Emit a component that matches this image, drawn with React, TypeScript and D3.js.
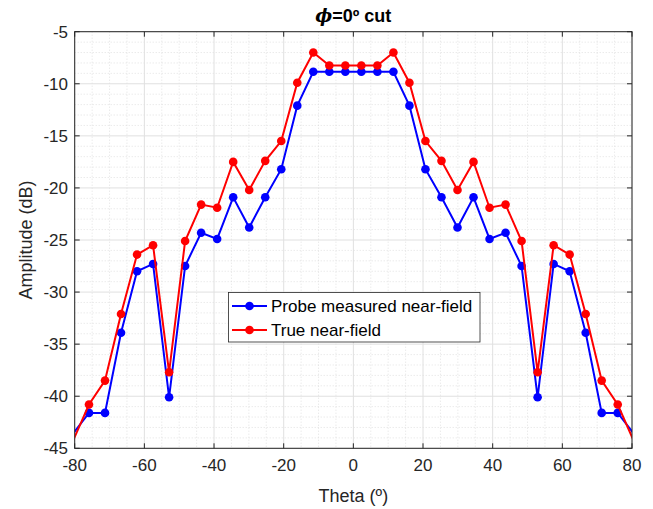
import React from "react";
import * as d3 from "d3";

const theta = [
  -80.5, -75.9, -71.3, -66.7, -62.1, -57.5, -52.9, -48.3, -43.7, -39.1, -34.5, -29.9,
  -25.3, -20.7, -16.1, -11.5, -6.9, -2.3, 2.3, 6.9, 11.5, 16.1, 20.7, 25.3,
  29.9, 34.5, 39.1, 43.7, 48.3, 52.9, 57.5, 62.1, 66.7, 71.3, 75.9, 80.5,
];
const probeMeasured = [
  -43.6, -41.6, -41.6, -33.9, -28.0, -27.3, -40.1, -27.5, -24.3, -24.9, -20.9, -23.8,
  -20.9, -18.2, -12.1, -8.85, -8.85, -8.85, -8.85, -8.85, -8.85, -12.1, -18.2, -20.9,
  -23.8, -20.9, -24.9, -24.3, -27.5, -40.1, -27.3, -28.0, -33.9, -41.6, -41.6, -43.6,
];
const trueField = [
  -44.3, -40.8, -38.5, -32.1, -26.4, -25.5, -37.7, -25.1, -21.6, -21.9, -17.5, -20.2,
  -17.4, -15.5, -9.9, -7.0, -8.25, -8.25, -8.25, -8.25, -7.0, -9.9, -15.5, -17.4,
  -20.2, -17.5, -21.9, -21.6, -25.1, -37.7, -25.5, -26.4, -32.1, -38.5, -40.8, -44.3,
];
const xTicks = [-80, -60, -40, -20, 0, 20, 40, 60, 80];
const yTicks = [-45, -40, -35, -30, -25, -20, -15, -10, -5];
const seriesNames = ["Probe measured near-field", "True near-field"];
const seriesColors = ["#0000ff", "#ff0000"];

const W = 653;
const H = 509;
const left = 74.7;
const right = 632;
const top = 31.7;
const bottom = 448.3;
const axisColor = "#262626";
const font = "'Liberation Sans', Arial, Helvetica, sans-serif";

export default function App() {
  const x = d3.scaleLinear().domain([-80, 80]).range([left, right]);
  const y = d3.scaleLinear().domain([-45, -5]).range([bottom, top]);
  const xMinor = d3.range(-80, 80.01, 5).filter((v) => v % 20 !== 0);
  const yMinor = d3.range(-45, -4.99, 1).filter((v) => v % 5 !== 0);
  const series = [probeMeasured, trueField];
  const line = d3
    .line<number>()
    .x((_, i) => x(theta[i]))
    .y((d) => y(d));

  return (
    <svg
      width={W}
      height={H}
      style={{ position: "absolute", left: 0, top: 0, background: "#fff" }}
      fontFamily={font}
    >
      <defs>
        <clipPath id="plot">
          <rect x={left} y={top} width={right - left} height={bottom - top} />
        </clipPath>
      </defs>
      <rect x={0} y={0} width={W} height={H} fill="#fff" />
      {/* minor grid */}
      {xMinor.map((v) => (
        <line key={"xm" + v} x1={x(v)} x2={x(v)} y1={top} y2={bottom} stroke="#d6d6d6" strokeWidth={0.7} strokeDasharray="1,2" />
      ))}
      {yMinor.map((v) => (
        <line key={"ym" + v} x1={left} x2={right} y1={y(v)} y2={y(v)} stroke="#d6d6d6" strokeWidth={0.7} strokeDasharray="1,2" />
      ))}
      {/* major grid */}
      {xTicks.map((v) => (
        <line key={"xg" + v} x1={x(v)} x2={x(v)} y1={top} y2={bottom} stroke="#e0e0e0" strokeWidth={1} />
      ))}
      {yTicks.map((v) => (
        <line key={"yg" + v} x1={left} x2={right} y1={y(v)} y2={y(v)} stroke="#e0e0e0" strokeWidth={1} />
      ))}
      {/* data */}
      <g clipPath="url(#plot)">
        {series.map((s, si) => (
          <g key={si}>
            <path d={line(s) || ""} fill="none" stroke={seriesColors[si]} strokeWidth={2} />
            {s.map((v, i) =>
              theta[i] >= -80 && theta[i] <= 80 ? (
                <circle key={i} cx={x(theta[i])} cy={y(v)} r={4.3} fill={seriesColors[si]} />
              ) : null
            )}
          </g>
        ))}
      </g>
      {/* axes box */}
      <rect x={left} y={top} width={right - left} height={bottom - top} fill="none" stroke={axisColor} strokeWidth={1} />
      {/* ticks */}
      {xTicks.map((v) => (
        <g key={"xt" + v}>
          <line x1={x(v)} x2={x(v)} y1={bottom} y2={bottom - 5} stroke={axisColor} />
          <line x1={x(v)} x2={x(v)} y1={top} y2={top + 5} stroke={axisColor} />
          <text x={x(v)} y={471} textAnchor="middle" fontSize={17} fill={axisColor}>
            {v}
          </text>
        </g>
      ))}
      {yTicks.map((v) => (
        <g key={"yt" + v}>
          <line x1={left} x2={left + 5} y1={y(v)} y2={y(v)} stroke={axisColor} />
          <line x1={right} x2={right - 5} y1={y(v)} y2={y(v)} stroke={axisColor} />
          <text x={68} y={y(v) + 6} textAnchor="end" fontSize={17} fill={axisColor}>
            {v}
          </text>
        </g>
      ))}
      {/* labels */}
      <text x={(left + right) / 2} y={502} textAnchor="middle" fontSize={18} fill={axisColor}>
        Theta (º)
      </text>
      <text
        transform={`translate(32,${(top + bottom) / 2}) rotate(-90)`}
        textAnchor="middle"
        fontSize={18}
        fill={axisColor}
      >
        Amplitude (dB)
      </text>
      <text x={(left + right) / 2} y={22} textAnchor="middle" fontSize={18} fontWeight="bold" fill="#000">
        <tspan fontStyle="italic" fontFamily="'DejaVu Serif', serif">ϕ</tspan>
        <tspan>=0º cut</tspan>
      </text>
      {/* legend */}
      <g>
        <rect x={228.5} y={292.5} width={251.5} height={49.5} fill="#fff" stroke={axisColor} strokeWidth={0.8} />
        {seriesNames.map((name, i) => {
          const cy = 306 + i * 24;
          return (
            <g key={name}>
              <line x1={232} x2={267} y1={cy} y2={cy} stroke={seriesColors[i]} strokeWidth={2} />
              <circle cx={249.5} cy={cy} r={4.3} fill={seriesColors[i]} />
              <text x={271} y={cy + 6} fontSize={17} fill="#000">
                {name}
              </text>
            </g>
          );
        })}
      </g>
    </svg>
  );
}
